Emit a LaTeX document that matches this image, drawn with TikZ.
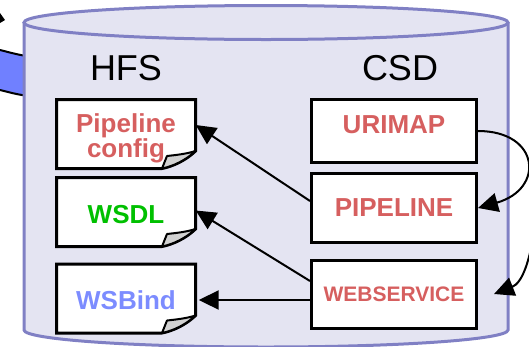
\documentclass[tikz,border=0pt]{standalone}
\usepackage{fontspec}
\setmainfont{Liberation Sans}
\usetikzlibrary{arrows.meta,positioning,calc}

\definecolor{drumfill}{HTML}{E4E4F2}
\definecolor{drumline}{HTML}{8080C4}
\definecolor{resred}{HTML}{D65F5F}
\definecolor{wsdlgreen}{HTML}{00C000}
\definecolor{bindblue}{HTML}{7C8CFF}
\definecolor{feedblue}{HTML}{7080FF}

\tikzset{
  heading/.style={font=\fontsize{36}{40}\selectfont},
  csdbox/.style={draw, line width=3pt, fill=white, minimum width=165pt, inner sep=0pt,
    font=\fontsize{26}{30}\selectfont\bfseries, text=resred},
  doctext/.style={inner sep=0pt, align=center,
    font=\fontsize{26}{23}\selectfont\bfseries},
  docpage/.style={draw, line width=3pt, fill=white},
  docfold/.style={draw, line width=2pt, fill=gray!35, line join=round},
  arr/.style={-{Triangle[length=20pt,width=19pt]}, line width=2pt}
}

\begin{document}
\begin{tikzpicture}[x=1pt,y=-1pt]
\useasboundingbox (0,0) rectangle (529,346);
\clip (0,0) rectangle (529,346);

% incoming arrow on the left, behind the drum
\fill (0,13) -- (5,20) -- (0,23) -- cycle;
\fill[feedblue] (0,50) .. controls (12,53) and (22,56) .. (40,58) -- (40,97) .. controls (22,96) and (12,93) .. (0,90) -- cycle;
\draw[line width=2pt] (0,50) .. controls (12,53) and (22,56) .. (40,58);
\draw[line width=2pt] (0,90) .. controls (12,93) and (22,96) .. (40,97);

% drum
\fill[drumfill] (24,22.5) -- (24,330) .. controls (24,339.4) and (132.3,347) .. (266,347)
  .. controls (399.7,347) and (508,339.4) .. (508,330) -- (508,22.5) -- cycle;
\draw[drumline, line width=3pt] (24,22.5) -- (24,330) .. controls (24,339.4) and (132.3,347) .. (266,347)
  .. controls (399.7,347) and (508,339.4) .. (508,330) -- (508,22.5);
\draw[drumline, line width=3pt, fill=drumfill] (266,22.5) ellipse [x radius=242, y radius=17];

\node[heading] (hfs) at (126,68) {HFS};
\node[heading] (csd) at (400,68) {CSD};

% HFS files
\foreach \nm/\y/\dy/\col/\txt in {cfg/134/4/resred/{Pipeline\\config}, wsdl/212/2.5/wsdlgreen/WSDL, wsbind/298.5/1.5/bindblue/WSBind} {
  \begin{scope}[shift={(126,\y)}]
    \draw[docpage] (-69.5,-34.5) -- (-69.5,34.5) -- (36,34.5) .. controls (48,32) and (60,26) .. (69.5,17) -- (69.5,-34.5) -- cycle;
    \draw[docfold] (36,34.5) -- (41,22) .. controls (50,21) and (60,20) .. (69.5,17) .. controls (60,26) and (48,32) .. (36,34.5) -- cycle;
  \end{scope}
  \node[doctext, text=\col, minimum width=139pt] (\nm) at (126,\y+\dy) {\txt};
}

% CSD resources
\node[csdbox, minimum height=63pt, text depth=12pt] (urimap) at (394,131) {URIMAP};
\node[csdbox, minimum height=69pt] (pipeline) at (394,208) {PIPELINE};
\node[csdbox, minimum height=68pt, font=\fontsize{21}{24}\selectfont\bfseries] (webservice) at (394,294) {WEBSERVICE};

% references
\draw[arr] ([yshift=7pt]pipeline.west) -- ([yshift=13pt]cfg.east);
\draw[arr] ([yshift=13pt]webservice.west) -- ([yshift=4pt]wsdl.east);
\draw[arr, shorten >=3pt] (wsbind.east -| webservice.west) -- (wsbind.east);
\draw[arr] (urimap.east) .. controls +(62,0) and +(67,-19) .. (pipeline.east);
\coordinate (feedin) at (535,225);
\draw[arr] (feedin) .. controls (530,262) and (522,283) .. ([xshift=16pt]webservice.east);
\end{tikzpicture}
\end{document}
